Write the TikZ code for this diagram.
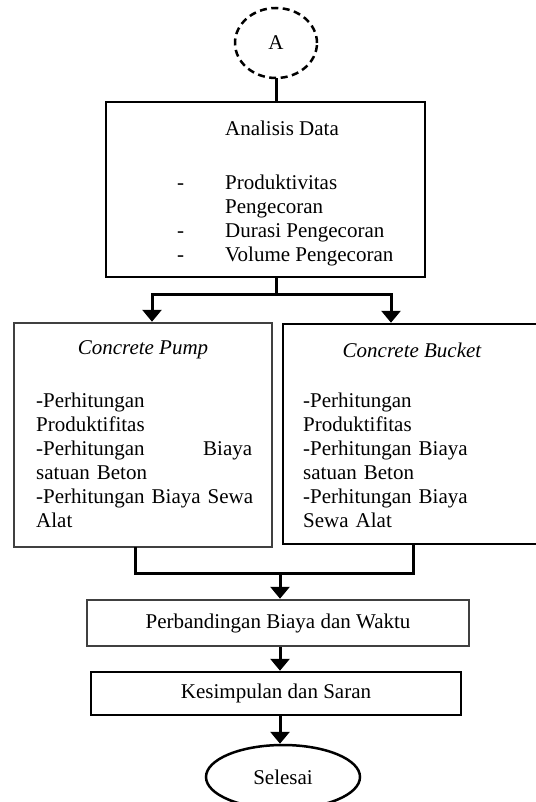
\documentclass[tikz,border=0pt]{standalone}
\usepackage{fontspec}
\setmainfont{Liberation Serif}
\usetikzlibrary{arrows.meta,shapes.geometric}
\tikzset{
  txt/.style={font=\fontsize{21}{24}\selectfont, inner sep=0pt},
  kotak/.style={draw, line width=2.5pt, inner sep=0pt},
  garis/.style={line width=3pt, line cap=rect},
  panah/.style={line width=3pt, -{Triangle[width=19pt,length=12pt]}},
}
\begin{document}
\begin{tikzpicture}[x=1pt,y=-1pt]
  \useasboundingbox (0,0) rectangle (535,802);
  % awal
  \node[kotak, ellipse, dash pattern=on 7pt off 4.5pt, minimum width=82, minimum height=70, txt] (A) at (276,43) {A};
  % analisis
  \node[kotak, minimum width=319, minimum height=175] (ana) at (265.5,189.5) {};
  \node[txt] (judulana) at (282,128) {Analisis Data};
  \node[txt, anchor=north west] (isiana) at (177,172.5) {\begin{tabular}{@{}p{48pt}@{}l@{}}
    -&Produktivitas\\ &Pengecoran\\ -&Durasi Pengecoran\\ -&Volume Pengecoran\end{tabular}};
  % alat
  \node[kotak, draw=black!75, minimum width=258, minimum height=224] (pump) at (143,435) {};
  \node[txt] (judulpump) at (143,350) {\itshape Concrete Pump};
  \node[txt, anchor=north west, text width=216, align=left] (isipump) at (36,392.5)
    {-Perhitungan\\ Produktifitas\\ -Perhitungan\hfill Biaya\\ satuan Beton\\ \mbox{-Perhitungan Biaya Sewa}\\ Alat};
  \node[kotak, minimum width=254, minimum height=220] (bucket) at (410,434) {};
  \node[txt] (judulbucket) at (412,350) {\itshape Concrete Bucket};
  \node[txt, anchor=north west, text width=216, align=left] (isibucket) at (303,392.5)
    {-Perhitungan\\ Produktifitas\\ -Perhitungan Biaya\\ satuan Beton\\ -Perhitungan Biaya\\ Sewa Alat};
  % hasil
  \node[kotak, draw=black!75, minimum width=382, minimum height=46, txt] (perb) at (278,623) {Perbandingan Biaya dan Waktu};
  \node[kotak, minimum width=370, minimum height=43, txt] (kes) at (276,693.5) {Kesimpulan dan Saran};
  \node[kotak, ellipse, minimum width=154, minimum height=64, txt] (sel) at (283,777) {Selesai};
  % sambungan
  \coordinate (cab) at (276,294);
  \coordinate (kiri) at (152,294);
  \coordinate (kanan) at (391,294);
  \coordinate (bkiri) at (135,573);
  \coordinate (bkanan) at (413,573);
  \coordinate (tengah) at (280,573);
  \draw[garis] (A.south) -- (A.south |- ana.north);
  \draw[garis] (ana.south -| cab) -- (cab);
  \draw[garis] (kiri) -- (kanan);
  \draw[panah] (kiri) -- (kiri |- pump.north);
  \draw[panah] (kanan) -- (kanan |- bucket.north);
  \draw[garis] (bkiri |- pump.south) -- (bkiri) -- (bkanan) -- (bkanan |- bucket.south);
  \draw[panah] (tengah) -- (tengah |- perb.north);
  \draw[panah] (perb.south -| tengah) -- (tengah |- kes.north);
  \draw[panah] (kes.south -| tengah) -- (tengah |- sel.north);
\end{tikzpicture}
\end{document}
